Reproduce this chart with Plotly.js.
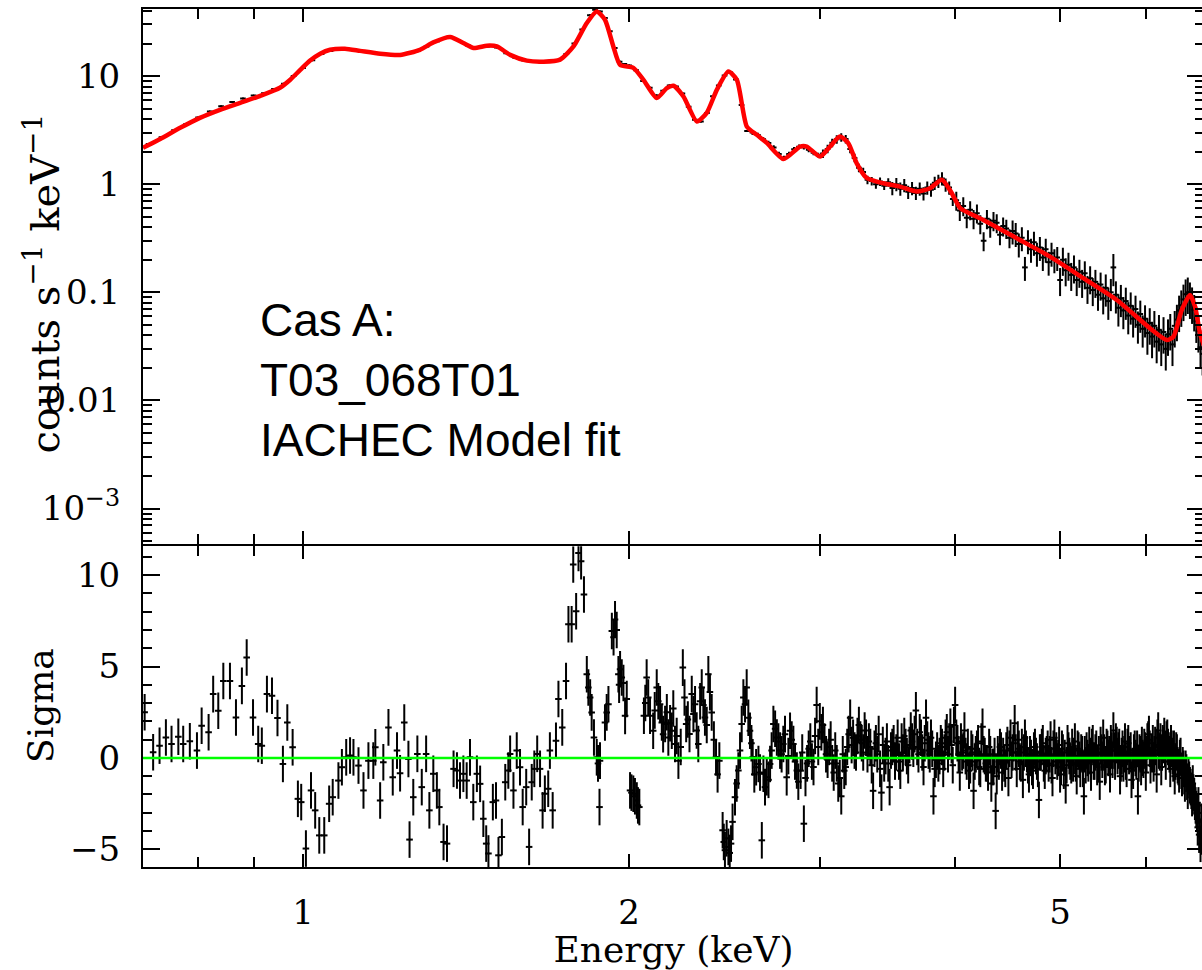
<!DOCTYPE html>
<html>
<head>
<meta charset="utf-8">
<script src="https://cdn.plot.ly/plotly-3.0.1.min.js"></script>
<style>html,body{margin:0;padding:0;overflow:hidden;background:#fff;}</style>
</head>
<body>
<div id="chart" style="width:1206px;height:970px;"></div>
<script>
// ---- model curve (red) ----
const modelE = [0.7115,0.738,0.770,0.803,0.838,0.875,0.913,0.952,0.973,0.994,1.015,1.037,1.059,1.093,1.129,1.178,1.229,1.282,1.319,1.367,1.406,1.437,1.478,1.510,1.553,1.609,1.667,1.727,1.777,1.828,1.867,1.900,1.934,1.962,2.018,2.062,2.121,2.167,2.198,2.245,2.310,2.359,2.410,2.470,2.515,2.569,2.624,2.680,2.777,2.877,2.918,3.002,3.066,3.131,3.187,3.245,3.315,3.434,3.558,3.687,3.793,3.889,3.972,4.044,4.248,4.560,4.895,5.254,5.641,6.054,6.273,6.362,6.476,6.592,6.662,6.733,6.79];
const modelRate = [2.17,2.62,3.32,4.11,4.88,5.66,6.57,7.79,9.24,11.4,13.9,16.1,17.5,17.9,17.1,16.1,15.7,17.5,20.5,23.0,20.2,18.2,19.1,18.8,15.7,13.9,13.6,14.2,18.8,31.0,39.6,33.2,18.8,12.7,11.9,9.24,6.26,7.74,8.13,6.47,3.80,4.57,7.46,11.0,9.24,3.41,2.86,2.41,1.71,2.23,2.23,1.80,2.23,2.76,2.40,1.56,1.14,1.02,0.95,0.854,0.918,1.10,0.826,0.600,0.467,0.316,0.214,0.135,0.0849,0.0464,0.0362,0.0388,0.0686,0.0944,0.0736,0.0417,0.032];

// ---- measured spectrum (black crosses) ----
const specE = [0.72,0.74,0.76,0.78,0.80,0.82,0.84,0.86,0.88,0.90,
0.92,0.94,0.96,0.98,1.00,1.02,1.04,1.06,1.08,1.10,
1.12,1.15,1.18,1.21,1.24,1.27,1.30,1.33,1.36,1.39,
1.42,1.45,1.48,1.51,1.54,1.57,1.60,1.63,1.66,1.69,
1.72,1.75,1.78,1.81,1.84,1.86,1.88,1.90,1.92,1.94,
1.96,1.98,2.00,2.03,2.06,2.09,2.12,2.15,2.18,2.21,
2.24,2.27,2.30,2.33,2.36,2.39,2.42,2.45,2.48,2.51,
2.54,2.57,2.60,2.63,2.66,2.69,2.72,2.75,2.78,2.81,
2.84,2.87,
2.90,2.93,2.96,2.99,3.02,3.05,3.08,3.11,3.14,3.17,
3.20,3.23,3.26,3.29,3.32,3.35,3.38,3.41,3.44,3.47,
3.50,3.53,3.56,3.59,3.62,3.65,3.68,3.71,3.74,3.77,
3.80,3.83,3.86,3.89,3.92,3.95,3.98,4.01,4.04,4.07,
4.10,4.13,4.16,4.19,4.22,4.25,4.28,4.31,4.34,4.37,
4.40,4.43,4.46,4.49,4.52,4.55,4.58,4.61,4.64,4.67,
4.70,4.73,4.76,4.79,4.82,4.85,4.88,4.91,4.94,4.97,
5.00,5.03,5.06,5.09,5.12,5.15,5.18,5.21,5.24,5.27,
5.30,5.33,5.36,5.39,5.42,5.45,5.48,5.51,5.54,5.57,
5.60,5.63,5.66,5.69,5.72,5.75,5.78,5.81,5.84,5.87,
5.90,5.93,5.96,5.99,6.02,6.05,6.08,6.11,6.14,6.17,
6.20,6.23,6.26,6.29,6.32,6.35,6.38,6.41,6.44,6.47,
6.50,6.53,6.56,6.59,6.62,6.65,6.68,6.71,6.74,6.77];
const specRate = [2.35,2.72,3.15,3.6,4.15,4.7,5.25,5.75,6.2,6.6,
6.95,7.6,8.5,10.0,11.9,14.0,16.0,17.1,17.6,17.8,
17.3,16.6,16.0,15.8,15.9,16.9,18.8,21.0,22.5,21.6,
19.2,18.3,18.8,18.4,16.3,14.8,13.9,13.5,13.3,13.5,
14.0,16.0,20.0,27.0,36.5,41.0,39.5,34.5,26.0,18.2,
13.6,12.9,12.5,11.3,9.0,7.8,6.6,7.3,8.2,8.0,
6.9,5.2,3.95,3.8,4.55,6.5,8.2,10.1,10.8,9.3,
5.4,3.1,3.0,2.85,2.6,2.4,2.18,1.9,1.75,1.9,
2.1,2.22,
2.2,2.08,1.95,1.86,1.92,2.12,2.42,2.6,2.72,2.62,
2.12,1.75,1.42,1.3,1.1,1.07,1.0,1.06,0.97,1.04,
0.92,1.0,0.91,0.98,0.85,0.92,0.83,0.91,0.82,0.93,
0.89,1.03,1.07,1.13,0.99,0.93,0.73,0.71,0.57,0.63,
0.49,0.58,0.48,0.54,0.43,0.30,0.48,0.40,0.46,0.44,
0.34,0.41,0.39,0.32,0.37,0.35,0.28,0.32,0.17,0.30,
0.25,0.29,0.23,0.26,0.21,0.25,0.19,0.23,0.20,0.21,
0.13,0.20,0.16,0.18,0.145,0.17,0.13,0.155,0.125,0.15,
0.11,0.135,0.105,0.125,0.095,0.118,0.088,0.11,0.083,0.10,
0.17,0.095,0.072,0.088,0.068,0.083,0.061,0.075,0.057,0.07,
0.05,0.063,0.046,0.057,0.042,0.052,0.039,0.049,0.035,0.045,
0.033,0.043,0.03,0.041,0.046,0.033,0.049,0.056,0.068,0.076,
0.086,0.096,0.1,0.09,0.081,0.069,0.054,0.044,0.031,0.027];
// relative (percent) size of the spectrum error bars, by energy band
const errBandUpperE = [1.9,2.6,3.0,3.5,4.0,4.5,5.0,5.5,6.0,7.0];
const errBandPct    = [1.5,2.2,5,9,14,20,25,29,33,37];

// ---- residuals (sigma), first channel set ----
const residE = [0.714,0.727,0.737,0.747,0.756,0.767,0.775,0.786,0.798,0.806,
0.818,0.826,0.835,0.844,0.856,0.867,0.878,0.887,0.899,0.909,
0.916,0.926,0.936,0.947,0.958,0.967,0.978,0.989,0.996,1.006,
1.017,1.026,1.035,1.046,1.057,1.065,1.078,1.086,1.096,1.105,
1.113,1.125,1.137,1.149,1.161,1.166,1.178,1.186,1.199,1.210,1.221,
1.229,1.240,1.251,1.254,1.264,1.275,1.287,1.299,1.308,1.319,
1.329,1.336,1.348,1.358,1.377,1.387,1.396,1.406,1.416,1.426,
1.436,1.447,1.457,1.467,1.476,1.483,1.497,1.507,1.515,1.526,
1.537,1.547,1.553,1.564,1.575,1.586,1.595,1.607,1.617,1.626,
1.635,1.645,1.655,1.664,1.672,1.684,1.690,1.700,1.712,1.721,1.735,1.749,
1.758,1.770,1.776,1.787,1.796,1.806,1.817,1.828,1.834,1.841,
1.847,1.856,1.867,1.872,1.878,1.880,1.900,1.907,1.914,1.928,
1.935,1.941,1.948,1.955,1.958,1.962,1.969,1.976,1.983,1.990,
2.004,2.010,2.018,2.025,2.033,2.038,2.044,2.064,2.070,2.076,
2.083,2.091,2.105,2.112,2.121,2.128,2.136,2.144,2.150,2.159,
2.167,2.174,2.182,2.190,2.197,2.205,2.213,2.221,2.232,2.242,
2.250,2.258,2.266,2.274,2.285,2.293,2.301,2.309,2.317,2.326,
2.334,2.342,2.350,2.359,2.367,2.375,2.384,2.395,2.406,2.414,
2.423,2.440,2.446,2.452,2.461,2.470,2.477,2.484,2.492,2.505,
2.514,2.523,2.532,2.541,2.550,2.559,2.568,2.577,2.586,2.594,
2.601,2.610,2.620,2.633,2.642,2.652,2.661,2.670,2.680,2.690,
2.699,2.708,2.718,2.728,2.738,2.747,2.757,2.766,2.776,2.786,
2.796,2.806,2.816,2.826,2.836,2.846,2.857,2.866,
2.88,2.90,2.92,2.94,2.96,2.98,3.00,3.02,3.04,3.06,
3.08,3.10,3.12,3.14,3.16,3.18,3.20,3.22,3.24,3.26,
3.28,3.30,3.32,3.34,3.36,3.38,3.40,3.42,3.44,3.46,
3.48,3.50,3.52,3.54,3.56,3.58,3.60,3.62,3.64,3.66,
3.68,3.70,3.72,3.74,3.76,3.78,3.80,3.82,3.84,3.86,
3.88,3.90,3.92,3.94,3.96,3.98,4.00,4.02,4.04,4.06,
4.08,4.10,4.12,4.14,4.16,4.18,4.20,4.22,4.24,4.26,
4.28,4.30,4.32,4.34,4.36,4.38,4.40,4.42,4.44,4.46,
4.48,4.50,4.52,4.54,4.56,4.58,4.60,4.62,4.64,4.66,
4.68,4.70,4.72,4.74,4.76,4.78,4.80,4.82,4.84,4.86,
4.88,4.90,4.92,4.94,4.96,4.98,5.00,5.02,5.04,5.06,
5.08,5.10,5.12,5.14,5.16,5.18,5.20,5.22,5.24,5.26,
5.28,5.30,5.32,5.34,5.36,5.38,5.40,5.42,5.44,5.46,
5.48,5.50,5.52,5.54,5.56,5.58,5.60,5.62,5.64,5.66,
5.68,5.70,5.72,5.74,5.76,5.78,5.80,5.82,5.84,5.86,
5.88,5.90,5.92,5.94,5.96,5.98,6.00,6.02,6.04,6.06,
6.08,6.10,6.12,6.14,6.16,6.18,6.20,6.22,6.24,6.26,
6.28,6.30,6.32,6.34,6.36,6.38,6.40,6.42,6.44,6.46,
6.48,6.50,6.52,6.54,6.56,6.58,6.60,6.62,6.64,6.66,
6.68,6.70,6.72,6.74,6.76,6.78];
const residSigma = [2.5,0.31,0.67,1.12,0.76,1.16,0.76,0.91,0.40,1.76,
1.40,3.49,2.58,4.21,4.21,2.21,3.94,5.49,2.21,0.76,
0.67,3.49,3.40,2.18,-0.33,1.94,0.58,-2.24,-2.42,-4.96,
-1.78,-2.87,-4.24,-4.24,-2.51,-2.15,-1.24,-0.51,0.03,0.13,
0.03,-0.42,-1.78,-0.15,-0.15,0.58,-2.33,-0.24,1.67,-1.06,0.40,
-0.84,1.94,-0.06,-4.47,-2.15,0.22,-1.60,0.22,-2.87,-0.87,
-1.78,-2.69,-4.60,-4.69,-0.60,-0.69,-1.24,-0.87,-1.24,0.03,
-2.42,-0.87,-1.42,-3.33,-4.69,-5.23,-2.42,-2.33,-5.33,-4.33,
-1.33,-0.69,0.22,-1.78,0.40,-0.51,-2.69,-1.60,-4.87,-1.33,
-0.60,0.22,-0.60,-2.87,-1.96,-1.69,0.40,-2.87,0.94,3.22,1.67,4.21,
7.31,7.31,10.58,8.03,11.21,10.76,8.94,4.58,3.85,3.30,
2.49,1.12,0.03,-0.3,-2.69,-0.15,1.94,2.49,2.94,6.94,
6.6,7.58,7.0,4.58,4.0,4.85,4.40,4.1,2.3,3.22,
-1.78,-1.9,-1.96,-2.1,-2.33,-2.6,-2.69,2.31,3.0,4.40,
3.3,2.31,1.49,2.6,3.85,3.1,2.94,1.94,1.3,1.85,
2.5,1.12,1.9,1.49,2.7,0.76,1.2,-0.15,0.6,4.94,
3.3,1.85,2.1,1.31,3.49,2.4,2.94,1.5,0.76,3.1,
3.85,2.9,2.21,1.8,4.58,3.6,2.49,1.0,0.03,-0.9,
-0.15,-3.96,-4.6,-5.05,-4.4,-4.87,-5.2,-4.69,-3.5,-2.15,
-1.4,-0.69,0.4,1.85,3.3,2.94,3.85,2.2,1.49,0.8,
0.03,-0.9,-0.51,-0.33,-0.8,-4.51,-0.87,-1.6,-1.06,-1.2,
-0.33,0.4,1.85,1.6,1.12,0.9,0.40,0.2,0.76,1.3,
-1.06,0.1,1.49,1.0,0.76,-0.2,-0.69,-1.3,
-0.7,-3.6,-0.3,0.9,-0.5,2.9,2.0,1.8,0.2,0.6,
-0.3,0.4,-1.4,-2.1,-0.7,0.6,2.2,1.1,0.3,1.8,
0.8,1.5,0.2,0.6,-1.8,0.8,1.3,-1.9,-0.3,0.9,
-1.6,0.6,-0.2,1.1,-0.7,0.3,0.6,-0.4,1.5,0.5,
2.6,0.2,1.1,-0.5,2.2,0.4,1.1,-2.1,-0.1,-0.3,
0.8,-0.6,1.1,0.2,1.7,-0.4,2.9,0.8,-0.8,0.3,
1.5,-0.2,-0.7,0.5,-1.8,0.2,0.8,-0.6,1.7,0.1,
-0.3,0.6,-1.4,-0.5,-2.9,0.2,0.6,-0.8,-0.3,0.4,
-1.1,1.1,0.3,1.9,-0.6,0.5,-0.3,-1.2,1.1,0.2,
-0.9,0.0,-0.7,0.6,-0.2,-2.3,0.3,0.8,-0.7,0.2,
-0.3,1.0,-1.1,1.1,0.4,0.0,-0.9,0.5,-0.7,-1.5,
0.8,0.1,-0.4,-0.3,0.9,-1.0,0.4,-0.6,0.2,-2.1,
-0.4,0.0,0.7,-0.8,0.8,-0.2,0.5,-0.3,-1.3,0.3,
1.1,-0.5,0.6,0.0,-0.9,0.4,1.5,-0.2,0.7,0.4,
-1.0,0.1,-0.3,0.9,-0.6,0.8,0.2,-1.2,-0.7,0.5,
-0.2,-2.1,0.3,-0.5,0.0,0.6,-0.8,0.9,1.3,-0.4,
0.2,-0.3,0.7,-0.9,1.5,0.3,-0.5,0.8,1.2,-0.2,
1.1,0.4,-0.6,0.5,-0.3,-1.0,0.4,-0.4,-0.9,0.1,
-1.1,-0.6,-1.4,-0.8,-1.8,-1.2,-1.6,-2.2,-1.9,-2.4,
-2.8,-3.8,-4.2,-4.7,-3.5,-4.0];

// ---- residuals (sigma), interleaved high-energy channels ----
const residE2 = [2.89,2.91,2.93,2.95,2.97,2.99,3.01,3.03,3.05,3.07,
3.09,3.11,3.13,3.15,3.17,3.19,3.21,3.23,3.25,3.27,
3.29,3.31,3.33,3.35,3.37,3.39,3.41,3.43,3.45,3.47,
3.49,3.51,3.53,3.55,3.57,3.59,3.61,3.63,3.65,3.67,
3.69,3.71,3.73,3.75,3.77,3.79,3.81,3.83,3.85,3.87,
3.89,3.91,3.93,3.95,3.97,3.99,4.01,4.03,4.05,4.07,
4.09,4.11,4.13,4.15,4.17,4.19,4.21,4.23,4.25,4.27,
4.29,4.31,4.33,4.35,4.37,4.39,4.41,4.43,4.45,4.47,
4.49,4.51,4.53,4.55,4.57,4.59,4.61,4.63,4.65,4.67,
4.69,4.71,4.73,4.75,4.77,4.79,4.81,4.83,4.85,4.87,
4.89,4.91,4.93,4.95,4.97,4.99,5.01,5.03,5.05,5.07,
5.09,5.11,5.13,5.15,5.17,5.19,5.21,5.23,5.25,5.27,
5.29,5.31,5.33,5.35,5.37,5.39,5.41,5.43,5.45,5.47,
5.49,5.51,5.53,5.55,5.57,5.59,5.61,5.63,5.65,5.67,
5.69,5.71,5.73,5.75,5.77,5.79,5.81,5.83,5.85,5.87,
5.89,5.91,5.93,5.95,5.97,5.99,6.01,6.03,6.05,6.07,
6.09,6.11,6.13,6.15,6.17,6.19,6.21,6.23,6.25,6.27,
6.29,6.31,6.33,6.35,6.37,6.39,6.41,6.43,6.45,6.47,
6.49,6.51,6.53,6.55,6.57,6.59,6.61,6.63,6.65,6.67,
6.69,6.71,6.73,6.75,6.77];
const residSigma2 = [0.3,-1.1,0.5,-0.2,1.2,0.6,1.4,0.9,-0.1,1.0,
-0.8,-0.3,-1.1,0.2,-0.5,1.3,0.7,0.4,1.2,1.0,
0.3,1.1,0.9,-0.4,0.5,0.2,-0.6,0.7,0.1,-0.3,
0.4,0.8,0.3,-0.2,0.9,1.2,0.1,0.7,0.9,1.3,
0.6,1.4,0.3,0.8,1.0,0.2,0.5,-0.6,0.4,0.1,
0.6,0.3,1.4,0.9,0.7,1.8,1.1,0.2,0.9,0.4,
0.1,0.6,-0.4,0.3,-0.2,0.5,-0.5,0.9,0.2,-0.3,
-0.8,0.2,-0.5,0.1,-1.0,-0.2,0.4,0.1,-0.6,0.7,
0.5,-0.1,0.8,0.3,1.0,-0.2,0.6,0.3,0.5,-0.4,
0.2,-0.5,0.4,0.1,-0.6,0.3,0.6,-0.3,0.1,0.5,
0.2,-0.4,0.5,0.1,-0.2,0.7,-0.5,0.3,0.0,-0.4,
0.4,-0.2,0.6,0.1,-0.3,0.5,-0.1,0.3,-0.6,0.2,
0.4,-0.3,0.1,0.6,-0.2,0.3,-0.5,0.2,0.7,-0.1,
0.3,-0.4,0.5,0.2,0.8,-0.1,0.4,0.9,0.1,0.6,
-0.3,0.5,0.2,-0.2,0.6,0.1,0.4,-0.5,0.3,0.0,
0.5,-0.3,0.2,0.7,-0.1,0.4,0.2,1.0,0.5,0.3,
0.8,0.2,0.6,1.1,0.4,0.9,0.3,0.7,0.5,1.0,
0.6,0.2,0.8,0.1,0.5,-0.2,0.3,-0.5,0.0,-0.7,
-0.4,-1.0,-0.6,-1.3,-1.0,-1.5,-1.8,-1.4,-2.1,-2.6,
-3.0,-2.6,-3.4,-4.3,-3.9];

// axis labels
const xTickVals = [1,2,5];
const xTickText = ['1','2','5'];
const xMinorVals = [0.8,0.9,3,4,6];
const yTopTickVals = [0.001,0.01,0.1,1,10];
const yTopTickText = ['10<sup>\u22123</sup>','0.01','0.1','1','10'];
const yTopMinorVals = [5e-4,6e-4,7e-4,8e-4,9e-4,0.002,0.003,0.004,0.005,0.006,0.007,0.008,0.009,0.02,0.03,0.04,0.05,0.06,0.07,0.08,0.09,0.2,0.3,0.4,0.5,0.6,0.7,0.8,0.9,2,3,4,5,6,7,8,9,20,30,40];
const yBotTickVals = [-5,0,5,10];
const yBotTickText = ['\u22125','0','5','10'];
const yBotMinorVals = [-4,-3,-2,-1,1,2,3,4,6,7,8,9,11];

const labelText = 'Cas A:<br>T03_068T01<br>IACHEC Model fit';
const xTitle = 'Energy (keV)';
const yTopTitle = 'counts s<sup>\u22121</sup> keV<sup>\u22121</sup>';
const yBotTitle = 'Sigma';

function pctFor(e){
  for (let i=0;i<errBandUpperE.length;i++){ if (e < errBandUpperE[i]) return errBandPct[i]; }
  return errBandPct[errBandPct.length-1];
}
const specErr = specE.map((e,i)=> specRate[i]*pctFor(e)/100);

const serif = 'DejaVu Serif, serif';
const tickFont = {family:serif, size:34, color:'black'};
const axisCommon = {
  showline:true, linecolor:'black', linewidth:2, mirror:'ticks',
  ticks:'inside', tickcolor:'black', tickwidth:2,
  showgrid:false, zeroline:false, tickfont:tickFont, tickmode:'array'
};
const residStyle = {
  type:'scatter', mode:'markers', xaxis:'x', yaxis:'y2',
  marker:{size:2, color:'black'},
  error_y:{type:'constant', value:1, visible:true, width:0, thickness:2, color:'black'},
  error_x:{type:'percent', value:0.7, visible:true, width:0, thickness:2, color:'black'},
  hoverinfo:'skip'
};

const traces = [
  {x:specE, y:specRate, xaxis:'x2', yaxis:'y', type:'scatter', mode:'markers',
   marker:{size:2, color:'black'},
   error_y:{type:'data', array:specErr, visible:true, width:0, thickness:2, color:'black'},
   error_x:{type:'percent', value:0.6, visible:true, width:0, thickness:2, color:'black'},
   hoverinfo:'skip'},
  {x:modelE, y:modelRate, xaxis:'x2', yaxis:'y', type:'scatter', mode:'lines',
   line:{color:'#ff0000', width:4.5, shape:'spline', smoothing:0.6}, hoverinfo:'skip'},
  Object.assign({x:residE, y:residSigma}, residStyle),
  Object.assign({x:residE2, y:residSigma2}, residStyle)
];

const xRange = [Math.log10(0.7115), Math.log10(6.79)];
const layout = {
  width:1206, height:970,
  margin:{l:143, r:2, t:9, b:103},
  paper_bgcolor:'white', plot_bgcolor:'white', showlegend:false,
  xaxis: Object.assign({}, axisCommon, {
    type:'log', range:xRange, anchor:'y2', domain:[0,1],
    tickvals:xTickVals, ticktext:xTickText, ticklen:13, ticklabelstandoff:14,
    minor:{tickmode:'array', tickvals:xMinorVals, ticks:'inside', ticklen:10, tickwidth:2, tickcolor:'black', showgrid:false},
    title:{text:xTitle, font:{family:serif, size:36, color:'black'}, standoff:14}
  }),
  xaxis2: Object.assign({}, axisCommon, {
    type:'log', range:xRange, anchor:'y', domain:[0,1], matches:'x',
    tickvals:xTickVals, ticktext:xTickText, ticklen:13, showticklabels:false,
    minor:{tickmode:'array', tickvals:xMinorVals, ticks:'inside', ticklen:10, tickwidth:2, tickcolor:'black', showgrid:false}
  }),
  yaxis: Object.assign({}, axisCommon, {
    type:'log', range:[-3.3306, 1.6204], domain:[0.3761,1], anchor:'x2',
    tickvals:yTopTickVals, ticktext:yTopTickText, ticklen:17, ticklabelstandoff:14,
    minor:{tickmode:'array', tickvals:yTopMinorVals, ticks:'inside', ticklen:9, tickwidth:2, tickcolor:'black', showgrid:false}
  }),
  yaxis2: Object.assign({}, axisCommon, {
    range:[-5.97, 11.58], domain:[0,0.3738], anchor:'x',
    tickvals:yBotTickVals, ticktext:yBotTickText, ticklen:17, ticklabelstandoff:14,
    minor:{tickmode:'array', tickvals:yBotMinorVals, ticks:'inside', ticklen:9, tickwidth:2, tickcolor:'black', showgrid:false}
  }),
  shapes:[
    {type:'line', xref:'x domain', x0:0, x1:1, yref:'y2', y0:0, y1:0,
     line:{color:'#00ff00', width:2.5}, layer:'above'}
  ],
  annotations:[
    {text:labelText, xref:'paper', yref:'paper', x:0.1084, y:0.568, xanchor:'left', yanchor:'middle',
     align:'left', showarrow:false, font:{family:'Liberation Sans, Arial, sans-serif', size:46, color:'black'}},
    {text:yTopTitle, xref:'paper', yref:'paper', x:-0.0952, y:0.680, xanchor:'center', yanchor:'middle',
     textangle:-90, showarrow:false, font:{family:serif, size:40, color:'black'}},
    {text:yBotTitle, xref:'paper', yref:'paper', x:-0.0971, y:0.1888, xanchor:'center', yanchor:'middle',
     textangle:-90, showarrow:false, font:{family:serif, size:36, color:'black'}}
  ]
};

Plotly.newPlot('chart', traces, layout, {displayModeBar:false, staticPlot:true});
</script>
</body>
</html>
